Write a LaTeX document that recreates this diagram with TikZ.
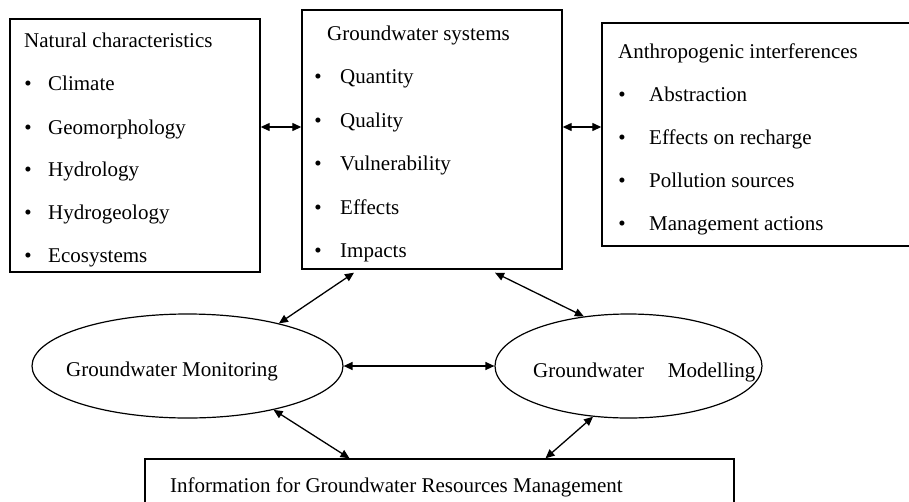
\documentclass[tikz,border=0pt]{standalone}
\usepackage{fontspec}
\setmainfont{Liberation Serif}
\usetikzlibrary{arrows.meta,shapes.geometric}
\begin{document}
\begin{tikzpicture}[x=1pt,y=-1pt,
  box/.style={draw,line width=1.4pt,inner sep=0pt},
  oval/.style={draw,ellipse,line width=1.2pt,inner sep=0pt},
  txt/.style={anchor=base west,inner sep=0pt,font=\fontsize{21}{24}\selectfont},
  bul/.style={anchor=base,inner sep=0pt,font=\fontsize{21}{24}\selectfont},
  link/.style={{Triangle[length=9pt,width=8pt]}-{Triangle[length=9pt,width=8pt]},line width=1.3pt}]
\useasboundingbox (0,0) rectangle (909,501);
\clip (0,0) rectangle (909,501);
% boxes
\node[box,minimum width=250pt,minimum height=253pt] (lb) at (135,145.5) {};
\node[box,minimum width=260pt,minimum height=259pt] (cb) at (432,139.5) {};
\node[box,minimum width=330pt,minimum height=223pt] (rb) at (767,134.5) {};
\node[box,minimum width=589pt,minimum height=54pt] (bb) at (439.5,486) {};
\node[oval,minimum width=311pt,minimum height=104pt] (me) at (187.5,366) {};
\node[oval,minimum width=267pt,minimum height=104pt] (mo) at (628.5,366) {};
% left box text
\node[txt] (lt) at (24,47) {Natural characteristics};
\foreach \y/\t [count=\i] in {90/Climate,134/Geomorphology,176/Hydrology,219/Hydrogeology,262/Ecosystems}{
  \node[bul] (lbb\i) at (28,\y) {\textbullet};
  \node[txt] (lbt\i) at (48,\y) {\t};
}
% centre box text
\node[txt] (ct) at (327,40) {Groundwater systems};
\foreach \y/\t [count=\i] in {83/Quantity,127/Quality,170/Vulnerability,214/Effects,257/Impacts}{
  \node[bul] (cbb\i) at (318,\y) {\textbullet};
  \node[txt] (cbt\i) at (340,\y) {\t};
}
% right box text
\node[txt] (rt) at (618,58) {Anthropogenic interferences};
\foreach \y/\t [count=\i] in {101/Abstraction,144/Effects on recharge,187/Pollution sources,230/Management actions}{
  \node[bul] (rbb\i) at (622,\y) {\textbullet};
  \node[txt] (rbt\i) at (649,\y) {\t};
}
% ellipse and bottom text
\node[txt] (met) at (66,376) {Groundwater Monitoring};
\node[txt] (mot) at (533,377) {Groundwater\hspace{24pt}Modelling};
\node[txt] (bbt) at (170,492) {Information for Groundwater Resources Management};
% connectors
\coordinate (hy) at (0,127);
\draw[link] (lb.east |- hy) -- (cb.west |- hy);
\draw[link] (cb.east |- hy) -- (rb.west |- hy);
\draw[link] ([xshift=-78pt,yshift=-3pt]cb.south) -- (me.25);
\draw[link] ([xshift=63pt,yshift=-3pt]cb.south) -- (mo.132);
\draw[link] (me) -- (mo);
\draw[link] (me.-27) -- ([xshift=-90pt]bb.north);
\draw[link] (mo.235) -- ([xshift=106pt]bb.north);
\end{tikzpicture}
\end{document}
